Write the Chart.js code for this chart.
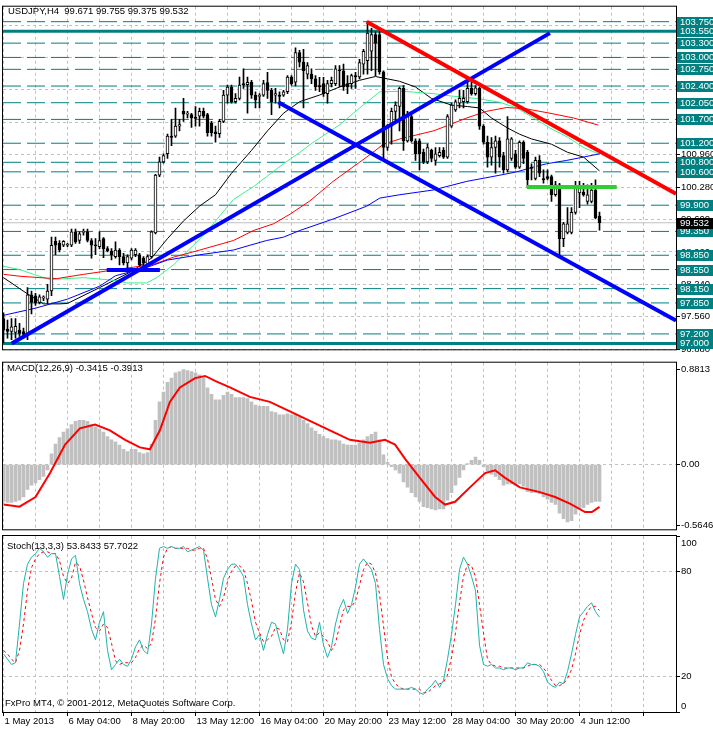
<!DOCTYPE html>
<html>
<head>
<meta charset="utf-8">
<script src="https://cdn.jsdelivr.net/npm/chart.js@4.4.1/dist/chart.umd.min.js"></script>
<style>
  html, body { margin: 0; padding: 0; background: #fff; }
  #wrap { position: relative; width: 713px; height: 729px; overflow: hidden; background: #fff; }
  canvas { position: absolute; left: 0; }
</style>
</head>
<body>
<div id="wrap">
  <canvas id="main" width="713" height="356" style="top:0"></canvas>
  <canvas id="macd" width="713" height="180" style="top:356px"></canvas>
  <canvas id="stoch" width="713" height="195" style="top:534px"></canvas>
</div>
<script>
// USDJPY H4
const xLabels = ['1 May 2013', '6 May 04:00', '8 May 20:00', '13 May 12:00', '16 May 04:00',
  '20 May 20:00', '23 May 12:00', '28 May 04:00', '30 May 20:00', '4 Jun 12:00'];

const opens = [97.52,97.30,97.25,97.23,97.28,97.25,97.18,98.02,98.00,97.86,97.95,97.93,98.10,99.14,99.10,99.06,99.06,99.06,99.34,99.16,
  99.33,99.34,99.16,99.07,99.03,99.20,98.99,98.94,98.82,98.96,98.82,98.69,98.79,98.86,98.86,98.79,98.65,98.82,99.32,100.53,
  100.81,100.98,101.35,101.35,101.56,101.87,101.81,101.80,101.74,101.77,101.87,101.80,101.63,101.44,101.40,101.66,102.21,102.38,102.07,102.14,
  102.45,102.43,102.48,102.21,102.18,102.21,102.47,102.31,102.21,102.21,102.21,102.28,102.59,102.48,103.10,102.90,102.65,102.65,102.55,102.41,
  102.45,102.24,102.45,102.45,102.74,102.72,102.45,102.45,102.62,102.59,102.86,102.93,103.13,103.48,103.48,102.70,101.11,101.56,101.87,101.97,
  102.35,101.25,101.76,101.25,101.25,101.01,100.81,101.05,100.84,100.94,101.05,100.91,101.56,101.90,102.04,102.07,102.07,102.35,102.24,102.35,
  101.56,101.22,100.91,101.11,101.25,100.94,100.64,100.88,100.98,100.70,101.22,101.01,100.70,100.46,100.84,100.46,100.50,100.50,100.12,100.33,
  99.20,99.33,99.33,99.75,100.16,100.17,99.98,99.98,100.22,99.671];
const highs = [97.64,97.49,97.52,97.52,97.42,97.32,98.17,98.10,98.05,98.02,98.00,98.24,99.23,99.23,99.16,99.16,99.10,99.40,99.40,99.34,
  99.40,99.40,99.20,99.20,99.34,99.22,99.03,98.99,99.13,98.99,98.89,98.86,98.99,98.99,98.89,98.82,98.86,99.36,100.55,100.91,
  100.98,101.39,101.70,101.94,101.70,102.14,101.87,101.83,101.97,101.94,101.94,101.83,101.66,101.56,101.70,102.31,102.42,102.42,102.24,102.59,
  102.76,102.59,102.52,102.28,102.24,102.52,102.69,102.35,102.35,102.28,102.31,102.62,102.62,103.20,103.15,103.17,102.89,102.76,102.62,102.58,
  102.58,102.52,102.59,102.83,102.83,102.86,102.62,102.65,102.69,102.96,103.17,103.75,103.61,103.54,103.54,102.72,101.59,101.94,102.07,102.38,
  102.41,101.87,101.80,101.29,101.29,101.08,101.18,101.08,101.11,101.11,101.11,101.80,102.04,102.11,102.31,102.31,102.52,102.48,102.41,102.38,
  101.59,101.35,101.32,101.35,101.32,101.01,101.76,101.32,101.05,101.25,101.25,101.05,100.77,100.91,100.94,100.64,100.64,100.53,100.40,100.36,
  99.54,99.85,99.85,100.40,100.40,100.36,100.33,100.36,100.43,99.755];
const lows = [97.01,97.11,97.08,97.11,97.15,97.11,97.08,97.62,97.80,97.83,97.90,97.83,98.00,98.86,98.92,99.03,99.03,99.03,99.10,99.10,
  99.27,99.13,98.79,98.86,98.99,98.80,98.92,98.75,98.79,98.65,98.65,98.58,98.75,98.82,98.62,98.58,98.62,98.79,99.30,100.50,
  100.78,100.88,101.15,101.32,101.46,101.66,101.73,101.53,101.56,101.56,101.73,101.35,101.35,101.22,101.32,101.63,102.04,102.04,102.04,102.11,
  102.35,101.83,102.14,101.94,101.94,102.18,102.14,101.80,102.04,101.94,102.18,102.24,102.42,102.40,102.80,101.94,102.55,102.45,102.31,102.28,
  102.18,102.04,102.38,102.41,102.38,102.31,102.24,102.35,102.35,102.55,102.65,102.65,102.72,102.62,102.65,100.84,101.05,101.18,101.66,101.46,
  101.05,101.22,101.22,100.84,100.64,100.77,100.77,100.81,100.74,100.91,100.88,100.88,101.53,101.87,101.94,101.94,102.04,102.21,102.21,101.49,
  101.18,100.70,100.74,100.57,100.70,100.57,100.60,100.84,100.67,100.67,100.77,100.29,100.43,100.43,100.50,100.36,100.43,99.98,100.09,98.82,
  99.03,99.30,99.30,99.71,99.85,100.09,99.92,99.95,99.61,99.375];
const closes = [97.28,97.25,97.35,97.36,97.21,97.19,98.02,97.86,97.85,97.98,97.98,98.10,99.06,99.06,98.96,99.14,99.07,99.34,99.13,99.30,
  99.35,99.16,99.06,99.05,99.16,98.99,98.94,98.86,98.96,98.82,98.69,98.82,98.96,98.96,98.65,98.69,98.82,99.34,100.53,100.81,
  100.94,101.35,101.32,101.56,101.59,101.81,101.83,101.73,101.72,101.87,101.77,101.42,101.42,101.40,101.66,102.21,102.38,102.07,102.14,102.42,
  102.42,102.48,102.21,102.11,102.21,102.45,102.31,102.07,102.24,102.18,102.28,102.59,102.45,103.10,102.90,102.72,102.83,102.55,102.38,102.38,
  102.24,102.45,102.52,102.76,102.72,102.38,102.38,102.62,102.59,102.89,103.13,103.51,103.48,103.30,102.70,101.11,101.56,101.87,102.00,102.35,
  101.25,101.76,101.25,100.98,100.98,100.81,101.11,100.88,100.98,101.01,100.91,101.76,102.00,102.07,102.14,102.14,102.35,102.24,102.36,101.56,
  101.22,100.91,101.11,101.25,100.91,100.64,101.29,101.29,100.70,101.22,100.88,100.43,100.67,100.84,100.57,100.43,100.46,100.12,100.33,99.20,
  99.51,99.51,99.75,100.29,100.29,100.12,100.12,100.22,99.64,99.532];

// moving averages: bar index / price pairs
const maBlackX = [0,6,10,14,16,24,32,37,41,45,49,53,57,62,66,70,74,79,84,89,93,96,99,103,107,112,116,119,122,126,129,132,137,141,145,149];
const maBlackY = [98.38,98.04,97.83,97.83,97.84,98.17,98.51,98.79,99.20,99.57,99.88,100.12,100.57,101.05,101.46,101.83,102.07,102.21,102.38,102.52,
  102.60,102.55,102.50,102.38,102.14,102.00,101.97,101.94,101.73,101.52,101.39,101.29,101.18,101.01,100.91,100.62];
const maGreenX = [0,4,7.5,11.6,20,28.3,30.8,35.8,38.3,42.5,47.5,50.8,54.1,57.5,62.5,65.8,70,74.1,77.1,84.1,89.9,94.1,99.9,107.5,112,119.1,124.1,128.3,132.5,136.6,141.2,145,148.7];
const maGreenY = [98.62,98.55,98.45,98.34,98.38,98.32,98.27,98.27,98.38,98.65,99.06,99.34,99.68,100.02,100.29,100.50,100.77,101.01,101.20,101.59,
  102.00,102.28,102.29,102.24,102.19,102.13,102.06,101.94,101.73,101.52,101.32,101.11,100.98];
const maRedX = [0,4.1,9.1,13.3,20,26.6,32.5,37.5,42.5,49.1,57.5,62.5,67.5,71.6,74.1,76.6,82.4,90.8,95,99.1,107.5,111.6,115.8,120.8,125.8,130.8,136.6,142.5,148.7];
const maRedY = [98.45,98.41,98.38,98.36,98.45,98.53,98.60,98.66,98.81,98.96,99.16,99.37,99.51,99.71,99.85,99.99,100.40,100.91,101.18,101.29,
  101.46,101.59,101.73,101.87,101.95,101.92,101.83,101.73,101.58];
const maBlueX = [0,8,16,24,28,36,41,49,57.5,61.6,65.8,70,74.1,82.4,90.8,94.1,99.1,107.5,115.8,124.1,128.3,132.5,135.8,140.8,145,149.1];
const maBlueY = [97.59,97.74,97.93,98.20,98.42,98.60,98.75,98.86,98.96,99.06,99.16,99.23,99.37,99.61,99.88,100.05,100.12,100.22,100.40,100.53,
  100.60,100.70,100.77,100.84,100.91,100.98];

// horizontal levels and trend lines (bar index, price)
const tealLevels = [103.75,103.30,103.00,102.75,102.40,102.05,101.70,101.20,100.80,100.60,99.90,99.35,98.85,98.55,98.15,97.85,97.20];
const tealThick = [103.55, 97.00];
const gridPrices = [96.88,97.56,98.24,98.92,99.60,100.28,100.96,101.64,102.32,103.00,103.68];
const lastPrice = 99.532;
const blueUp = [[2.05, 97.00], [136.6, 103.51]];
const blueDown = [[68.7, 102.06], [168.125, 97.48]];
const redDown = [[90.8, 103.75], [168.125, 100.14]];
const blueFlat = [[25.8, 98.54], [39.1, 98.54]];
const greenFlat = [[130.8, 100.28], [153.3, 100.28]];

// MACD(12,26,9)
const macdHist = [-0.34,-0.35,-0.35,-0.34,-0.33,-0.30,-0.23,-0.19,-0.17,-0.14,-0.11,-0.05,0.10,0.19,0.25,0.30,0.33,0.37,0.40,0.41,
  0.41,0.40,0.37,0.35,0.33,0.30,0.26,0.23,0.21,0.18,0.14,0.12,0.14,0.14,0.11,0.10,0.11,0.19,0.41,0.58,
  0.67,0.76,0.80,0.85,0.86,0.88,0.87,0.86,0.85,0.83,0.80,0.71,0.65,0.60,0.60,0.64,0.67,0.65,0.62,0.62,
  0.62,0.61,0.58,0.55,0.54,0.54,0.54,0.49,0.48,0.46,0.46,0.47,0.46,0.47,0.44,0.41,0.38,0.34,0.31,0.28,
  0.26,0.24,0.23,0.23,0.22,0.19,0.18,0.18,0.18,0.20,0.23,0.26,0.28,0.30,0.23,0.09,0.02,-0.02,-0.05,-0.08,
  -0.16,-0.21,-0.26,-0.30,-0.34,-0.39,-0.40,-0.41,-0.42,-0.41,-0.41,-0.33,-0.26,-0.19,-0.12,-0.05,0.01,0.04,0.07,0.04,
  -0.02,-0.06,-0.09,-0.11,-0.14,-0.19,-0.18,-0.18,-0.19,-0.18,-0.20,-0.25,-0.26,-0.26,-0.27,-0.30,-0.32,-0.35,-0.37,-0.45,
  -0.50,-0.53,-0.52,-0.46,-0.41,-0.40,-0.37,-0.35,-0.34,-0.3415];
const macdSigX = [0,4,8,11.6,15.4,19.1,22.9,26.6,30.4,34.1,36.6,39.1,41.6,44.1,47.9,50.4,52.9,56.6,61.6,66.6,71.6,76.6,81.6,86.6,91.6,95.4,97.9,
  100.4,104.1,107.9,110.4,112.9,116.6,120.4,122.9,125.4,129.1,134.1,137.9,141.6,145.4,147.1,149];
const macdSigY = [-0.37,-0.39,-0.30,-0.08,0.185,0.335,0.37,0.317,0.229,0.159,0.141,0.317,0.58,0.714,0.80,0.82,0.775,0.714,0.626,0.58,0.493,0.405,
  0.317,0.229,0.203,0.229,0.185,0.053,-0.123,-0.30,-0.37,-0.344,-0.211,-0.079,-0.053,-0.123,-0.211,-0.255,-0.30,-0.361,-0.44,-0.44,-0.3913];

// Stoch(13,3,3)
const stochMain = [33,30,27,28,50,73,84,88,90,93,91,88,90,90,77,64,78,87,89,73,
  64,57,47,41,51,57,35,24,27,30,27,26,30,37,41,35,33,50,76,93,
  94,93,94,93,93,94,91,92,93,94,92,76,61,54,64,76,81,84,84,81,
  77,61,50,41,44,35,44,51,50,41,33,47,73,84,81,58,46,42,41,51,
  38,31,37,50,59,64,56,61,71,84,87,84,81,73,47,27,19,15,13,13,
  13,13,14,13,11,10,13,15,18,14,18,30,44,61,81,88,84,77,69,38,
  27,26,27,25,25,24,25,25,24,25,25,28,27,27,26,23,17,15,14,17,
  16,23,33,44,54,57,60,62,57,53.84];
const stochSignal = [35,33,30,28,35,50,69,82,87,90,91,91,90,90,86,77,73,76,85,83,
  75,65,56,48,46,50,48,39,29,27,28,28,28,31,36,38,36,39,53,73,
  88,93,94,93,93,93,93,92,92,93,93,87,76,64,60,65,74,80,83,83,
  81,73,63,51,45,40,41,43,48,47,41,40,51,68,79,74,62,49,43,45,
  43,40,35,39,49,58,60,60,63,72,81,85,84,79,67,49,31,20,16,14,
  13,13,13,13,13,11,11,13,15,16,17,21,31,45,62,77,84,83,77,61,
  45,30,27,26,26,25,25,25,25,25,25,26,27,27,27,25,22,18,15,15,
  16,19,24,33,44,52,57,60,60,57.70];

// ---------------------------------------------------------------
const X_MIN = -0.125, X_MAX = 168.125;   // 4 px per bar
const FONT = { family: '"Liberation Sans", Arial, sans-serif', size: 9.5 };
const FONT_CSS = '9.5px "Liberation Sans", Arial, sans-serif';
const GRID = '#c0c0c0';
const TEAL = '#008080';
const bars = opens.map((_, i) => i);
const gridBars = [];
for (let b = 0; b <= 160; b += 8) gridBars.push(b);

const pts = (xs, ys) => xs.map((x, k) => ({ x: x, y: ys[k] }));
const seg = pair => pair.map(p => ({ x: p[0], y: p[1] }));

function line(data, color, width, extra) {
  return Object.assign({ type: 'line', data: data, borderColor: color, borderWidth: width,
    pointRadius: 0, tension: 0, fill: false }, extra || {});
}

function xScale(showLabels) {
  return {
    type: 'linear', min: X_MIN, max: X_MAX, offset: false,
    afterBuildTicks: s => { s.ticks = gridBars.map(v => ({ value: v })); },
    afterFit: s => { s.height = showLabels ? 17 : 0; },
    grid: { color: GRID, offset: false, drawTicks: showLabels, tickLength: 4, tickBorderDash: [],
      tickColor: c => (c.tick && c.tick.value % 16 === 0) ? '#000' : 'rgba(0,0,0,0)' },
    border: { display: false, dash: [3, 3] },
    ticks: { display: showLabels, autoSkip: false, maxRotation: 0, minRotation: 0, align: 'start',
      padding: 0, labelOffset: 1, color: '#000', font: FONT,
      callback: v => v % 16 === 0 ? (xLabels[v / 16] || '') : '' }
  };
}

// frame, texts and price boxes
const mt4 = {
  id: 'mt4',
  afterDraw(chart, args, o) {
    const ctx = chart.ctx, a = chart.chartArea, ys = chart.scales.y;
    ctx.save();
    ctx.setLineDash([]);
    ctx.strokeStyle = '#000';
    ctx.lineWidth = 1;
    ctx.strokeRect(a.left - 0.5, a.top - 0.5, a.right - a.left + 1, a.bottom - a.top + 1);
    ctx.font = FONT_CSS;
    ctx.textBaseline = 'middle';
    ctx.textAlign = 'left';
    (o.boxes || []).forEach(b => {
      const py = Math.round(ys.getPixelForValue(b.value));
      ctx.fillStyle = b.bg;
      ctx.fillRect(a.right + 1, py - 5, 40, 11);
      ctx.fillStyle = '#fff';
      ctx.fillText(b.value.toFixed(3), a.right + 4, py + 0.5);
    });
    ctx.fillStyle = '#000';
    (o.sideLabels || []).forEach(v => {
      let py = ys.getPixelForValue(v);
      py = Math.min(Math.max(py, a.top + 7), a.bottom - 6);
      ctx.fillText(String(v), a.right + 5, py);
    });
    (o.texts || []).forEach(t => ctx.fillText(t.text, t.x, t.y));
    ctx.restore();
  }
};

const common = {
  responsive: false, animation: false, events: [],
  plugins: { legend: { display: false }, tooltip: { enabled: false } }
};

// main price window
new Chart(document.getElementById('main'), {
  type: 'bar',
  plugins: [mt4],
  data: {
    datasets: [
      ...tealLevels.map(lv => line([{ x: X_MIN, y: lv }, { x: X_MAX, y: lv }], TEAL, 1, { borderDash: [18, 6], order: 30 })),
      ...tealThick.map(lv => line([{ x: X_MIN, y: lv }, { x: X_MAX, y: lv }], TEAL, 3, { order: 29 })),
      line([{ x: X_MIN, y: lastPrice }, { x: X_MAX, y: lastPrice }], '#c0c0c0', 1, { order: 28 }),
      line(pts(maBlueX, maBlueY), '#0000ff', 1, { order: 20 }),
      line(pts(maRedX, maRedY), '#ff0000', 1, { order: 20 }),
      line(pts(maGreenX, maGreenY), '#3cf08c', 1, { order: 20 }),
      line(pts(maBlackX, maBlackY), '#000000', 1, { order: 20 }),
      { type: 'bar', order: 11, grouped: false, barThickness: 1, backgroundColor: '#000',
        data: bars.map(i => ({ x: i, y: [lows[i], highs[i]] })) },
      { type: 'bar', order: 10, grouped: false, barThickness: 3, minBarLength: 1,
        borderColor: '#000', borderWidth: 1, borderSkipped: false,
        backgroundColor: bars.map(i => closes[i] >= opens[i] ? '#fff' : '#000'),
        data: bars.map(i => ({ x: i, y: [opens[i], closes[i]] })) },
      line(seg(blueUp), '#0000ff', 4, { order: 2 }),
      line(seg(blueDown), '#0000ff', 4, { order: 2 }),
      line(seg(blueFlat), '#0000ff', 4, { order: 2 }),
      line(seg(redDown), '#ff0000', 4, { order: 1 }),
      line(seg(greenFlat), '#32cd32', 4, { order: 1 })
    ]
  },
  options: Object.assign({}, common, {
    layout: { padding: { left: 3, top: 3, right: 0, bottom: 3 } },
    scales: {
      x: xScale(false),
      y: {
        position: 'right', min: 96.8774, max: 104.0642,
        afterBuildTicks: s => { s.ticks = gridPrices.map(v => ({ value: v })); },
        afterFit: s => { s.width = 37; },
        grid: { color: GRID, tickLength: 4, tickColor: '#000', tickBorderDash: [] },
        border: { display: false, dash: [3, 3] },
        ticks: { autoSkip: false, padding: 1, color: '#000', font: FONT, callback: v => v.toFixed(3) }
      }
    },
    plugins: Object.assign({}, common.plugins, {
      mt4: {
        boxes: tealLevels.concat(tealThick).map(v => ({ value: v, bg: TEAL }))
          .concat([{ value: lastPrice, bg: '#000' }]),
        texts: [{ text: 'USDJPY,H4  99.671 99.755 99.375 99.532', x: 8, y: 11 }]
      }
    })
  })
});

// MACD window
new Chart(document.getElementById('macd'), {
  type: 'bar',
  plugins: [mt4],
  data: {
    datasets: [
      { type: 'bar', order: 2, grouped: false, barThickness: 3, backgroundColor: '#c0c0c0',
        data: bars.map(i => ({ x: i, y: macdHist[i] })) },
      line(pts(macdSigX, macdSigY), '#ff0000', 2, { order: 1 })
    ]
  },
  options: Object.assign({}, common, {
    layout: { padding: { left: 3, top: 3, right: 0, bottom: 2 } },
    scales: {
      x: xScale(false),
      y: {
        position: 'right', min: -0.5991, max: 0.9427,
        afterBuildTicks: s => { s.ticks = [-0.5646, 0, 0.8813].map(v => ({ value: v })); },
        afterFit: s => { s.width = 37; },
        grid: { color: c => (c.tick && c.tick.value === 0) ? GRID : 'rgba(0,0,0,0)',
          tickLength: 4, tickColor: '#000', tickBorderDash: [] },
        border: { display: false, dash: [3, 3] },
        ticks: { autoSkip: false, padding: 1, color: '#000', font: FONT,
          callback: v => v === 0 ? '0.00' : v.toFixed(4) }
      }
    },
    plugins: Object.assign({}, common.plugins, {
      mt4: { texts: [{ text: 'MACD(12,26,9) -0.3415 -0.3913', x: 7, y: 12 }] }
    })
  })
});

// Stochastic window
new Chart(document.getElementById('stoch'), {
  type: 'line',
  plugins: [mt4],
  data: {
    datasets: [
      line(bars.map(i => ({ x: i, y: stochSignal[i] })), '#ff0000', 1, { borderDash: [3, 3], order: 2 }),
      line(bars.map(i => ({ x: i, y: stochMain[i] })), '#20b2aa', 1, { order: 1 })
    ]
  },
  options: Object.assign({}, common, {
    layout: { padding: { left: 3, top: 2, right: 0, bottom: 0 } },
    scales: {
      x: xScale(true),
      y: {
        position: 'right', min: 0, max: 100,
        afterBuildTicks: s => { s.ticks = [0, 20, 80, 100].map(v => ({ value: v })); },
        afterFit: s => { s.width = 37; },
        grid: { color: c => (c.tick && (c.tick.value === 20 || c.tick.value === 80)) ? GRID : 'rgba(0,0,0,0)',
          tickLength: 4, tickColor: '#000', tickBorderDash: [] },
        border: { display: false, dash: [3, 3] },
        ticks: { display: false }
      }
    },
    plugins: Object.assign({}, common.plugins, {
      mt4: {
        sideLabels: [100, 80, 20, 0],
        texts: [
          { text: 'Stoch(13,3,3) 53.8433 57.7022', x: 7, y: 12 },
          { text: 'FxPro MT4, \u00a9 2001-2012, MetaQuotes Software Corp.', x: 5, y: 169 }
        ]
      }
    })
  })
});
</script>
</body>
</html>
